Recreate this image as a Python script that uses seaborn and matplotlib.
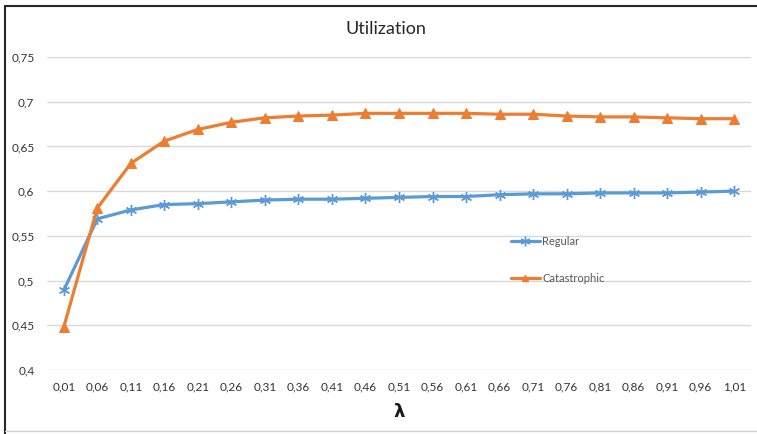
import matplotlib
matplotlib.use("Agg")
import matplotlib.pyplot as plt
from matplotlib.lines import Line2D
import seaborn as sns
import pandas as pd

# Arrival rate categories (x axis)
lambdas = ["0,01", "0,06", "0,11", "0,16", "0,21", "0,26", "0,31", "0,36", "0,41",
           "0,46", "0,51", "0,56", "0,61", "0,66", "0,71", "0,76", "0,81", "0,86",
           "0,91", "0,96", "1,01"]

# Utilization per model
regular = [0.489, 0.569, 0.579, 0.585, 0.586, 0.588, 0.590, 0.591, 0.591, 0.592,
           0.593, 0.594, 0.594, 0.596, 0.597, 0.597, 0.598, 0.598, 0.598, 0.599, 0.600]
catastrophic = [0.448, 0.581, 0.631, 0.656, 0.669, 0.677, 0.682, 0.684, 0.685, 0.687,
                0.687, 0.687, 0.687, 0.686, 0.686, 0.684, 0.683, 0.683, 0.682, 0.681, 0.681]

y_ticks = [0.4, 0.45, 0.5, 0.55, 0.6, 0.65, 0.7, 0.75]
y_tick_labels = ["0,4", "0,45", "0,5", "0,55", "0,6", "0,65", "0,7", "0,75"]

sns.set_theme(style="white")
plt.rcParams["font.family"] = ["Lato", "DejaVu Sans"]

W, H = 757, 434
fig = plt.figure(figsize=(W / 100, H / 100), dpi=100)
ax = fig.add_axes([47 / W, 1 - 370 / H, (751 - 47) / W, (370 - 57) / H])

BLUE, ORANGE = "#5B9BD5", "#ED7D31"
star = (6, 2, 0)

df_reg = pd.DataFrame({"lambda": lambdas, "value": regular})
df_cat = pd.DataFrame({"lambda": lambdas, "value": catastrophic})
sns.lineplot(data=df_reg, x="lambda", y="value", color=BLUE, marker=star,
             markersize=8, markeredgewidth=1.0, markeredgecolor=BLUE,
             linewidth=2.3, sort=False, ax=ax)
sns.lineplot(data=df_cat, x="lambda", y="value", color=ORANGE, marker="^",
             markersize=7, markeredgecolor=ORANGE, markerfacecolor=ORANGE,
             linewidth=2.3, sort=False, ax=ax)

ax.set_xlim(-0.5, len(lambdas) - 0.5)
ax.set_ylim(0.4, 0.75)
ax.set_yticks(y_ticks)
ax.set_yticklabels(y_tick_labels)
ax.yaxis.grid(True, color="#D9D9D9", linewidth=1.0)
ax.xaxis.grid(False)
ax.set_axisbelow(True)
for s in ax.spines.values():
    s.set_visible(False)
ax.tick_params(axis="both", length=0, labelsize=8.5, labelcolor="#333333")
ax.tick_params(axis="y", pad=9)
ax.tick_params(axis="x", pad=8)
ax.set_ylabel("")
ax.set_xlabel("λ", fontsize=13, fontweight="bold", color="#1a1a1a",
              family=["DejaVu Sans"], labelpad=8)

fig.text(386 / W, 1 - 29 / H, "Utilization", ha="center", va="center",
         fontsize=13, color="#262626")

handles = [
    Line2D([], [], color=BLUE, marker=star, markersize=7,
           markeredgewidth=1.0, linewidth=2.3),
    Line2D([], [], color=ORANGE, marker="^", markersize=5,
           linewidth=2.3),
]
leg = fig.legend(handles, ["Regular", "Catastrophic"], loc="upper left",
                 bbox_to_anchor=(511 / W, 1 - 236 / H), bbox_transform=fig.transFigure,
                 frameon=False, fontsize=8, labelcolor="#595959", handlelength=2.6,
                 handletextpad=0.2, labelspacing=2.35, borderpad=0, borderaxespad=0)

# chart frame
fig.add_artist(Line2D([4.5 / W, 4.5 / W], [0, 1 - 5.5 / H], color="#262626",
                      linewidth=1.5, transform=fig.transFigure))
fig.add_artist(Line2D([4.5 / W, 1], [1 - 5.5 / H, 1 - 5.5 / H], color="#262626",
                      linewidth=1.5, transform=fig.transFigure))
fig.add_artist(Line2D([4.5 / W, 1], [1 - 431 / H, 1 - 431 / H], color="#D0D0D0",
                      linewidth=1.0, transform=fig.transFigure))

fig.savefig("out.png", dpi=100)
